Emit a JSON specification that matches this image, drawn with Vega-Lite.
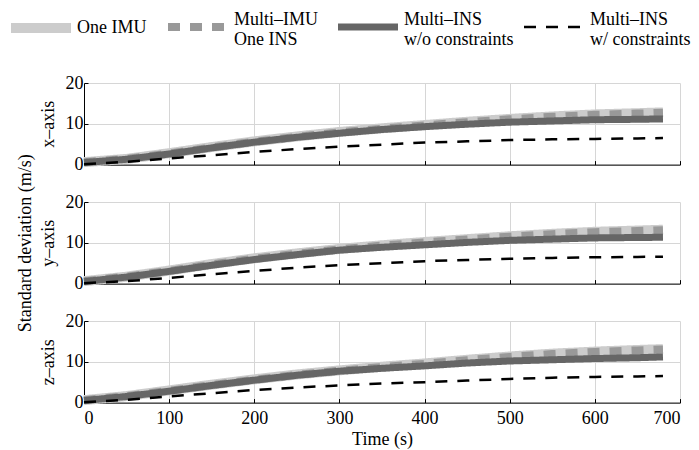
{
  "$schema": "https://vega.github.io/schema/vega-lite/v6.json",
  "padding": {"left": 16, "top": 18, "right": 2, "bottom": 0},
  "background": "white",
  "bounds": "flush",
  "spacing": 37,
  "config": {
    "font": "Liberation Serif",
    "view": {"stroke": null},
    "axis": {
      "labelFont": "Liberation Serif", "labelFontSize": 18, "labelColor": "black",
      "titleFont": "Liberation Serif", "titleFontSize": 18, "titleFontWeight": "normal", "titleColor": "black",
      "domainColor": "black", "domainWidth": 1, "tickColor": "black", "tickSize": -4, "tickWidth": 1,
      "gridColor": "#d6d6d6", "gridWidth": 1, "gridOpacity": 1
    },
    "legend": {
      "orient": "none", "legendX": -52, "legendY": -65, "direction": "horizontal", "title": null,
      "symbolType": "stroke", "symbolSize": 3600, "labelFont": "Liberation Serif", "labelFontSize": 18,
      "labelColor": "black", "labelOffset": 27, "columnPadding": 5, "labelLimit": 400, "labelLineHeight": 20
    }
  },
  "data": {"values": [
    {"p": "x", "t": 0, "imu": 0.6, "mimu": 0.6, "wo": 0.5, "w": 0.1},
    {"p": "x", "t": 50, "imu": 1.4, "mimu": 1.4, "wo": 1.3, "w": 0.7},
    {"p": "x", "t": 100, "imu": 2.8, "mimu": 2.7, "wo": 2.6, "w": 1.5},
    {"p": "x", "t": 150, "imu": 4.3, "mimu": 4.2, "wo": 4.1, "w": 2.3},
    {"p": "x", "t": 200, "imu": 5.7, "mimu": 5.6, "wo": 5.5, "w": 3.1},
    {"p": "x", "t": 250, "imu": 6.9, "mimu": 6.8, "wo": 6.7, "w": 3.8},
    {"p": "x", "t": 300, "imu": 8.0, "mimu": 7.9, "wo": 7.7, "w": 4.4},
    {"p": "x", "t": 350, "imu": 8.9, "mimu": 8.8, "wo": 8.6, "w": 4.9},
    {"p": "x", "t": 400, "imu": 9.7, "mimu": 9.6, "wo": 9.3, "w": 5.4},
    {"p": "x", "t": 450, "imu": 10.5, "mimu": 10.4, "wo": 9.9, "w": 5.7},
    {"p": "x", "t": 500, "imu": 11.2, "mimu": 11.1, "wo": 10.4, "w": 6.0},
    {"p": "x", "t": 550, "imu": 11.8, "mimu": 11.7, "wo": 10.7, "w": 6.2},
    {"p": "x", "t": 600, "imu": 12.3, "mimu": 12.2, "wo": 11.0, "w": 6.3},
    {"p": "x", "t": 650, "imu": 12.6, "mimu": 12.5, "wo": 11.1, "w": 6.4},
    {"p": "x", "t": 680, "imu": 12.8, "mimu": 12.7, "wo": 11.2, "w": 6.5},
    {"p": "y", "t": 0, "imu": 0.6, "mimu": 0.6, "wo": 0.5, "w": 0.1},
    {"p": "y", "t": 50, "imu": 1.7, "mimu": 1.7, "wo": 1.6, "w": 0.6},
    {"p": "y", "t": 100, "imu": 3.2, "mimu": 3.1, "wo": 3.0, "w": 1.4},
    {"p": "y", "t": 150, "imu": 4.8, "mimu": 4.7, "wo": 4.5, "w": 2.3},
    {"p": "y", "t": 200, "imu": 6.2, "mimu": 6.1, "wo": 5.9, "w": 3.1},
    {"p": "y", "t": 250, "imu": 7.4, "mimu": 7.3, "wo": 7.1, "w": 3.9},
    {"p": "y", "t": 300, "imu": 8.5, "mimu": 8.4, "wo": 8.2, "w": 4.5},
    {"p": "y", "t": 350, "imu": 9.4, "mimu": 9.3, "wo": 8.9, "w": 5.0},
    {"p": "y", "t": 400, "imu": 10.2, "mimu": 10.1, "wo": 9.5, "w": 5.5},
    {"p": "y", "t": 450, "imu": 10.9, "mimu": 10.8, "wo": 10.1, "w": 5.8},
    {"p": "y", "t": 500, "imu": 11.6, "mimu": 11.5, "wo": 10.6, "w": 6.1},
    {"p": "y", "t": 550, "imu": 12.2, "mimu": 12.1, "wo": 10.9, "w": 6.3},
    {"p": "y", "t": 600, "imu": 12.7, "mimu": 12.6, "wo": 11.2, "w": 6.45},
    {"p": "y", "t": 650, "imu": 13.0, "mimu": 12.9, "wo": 11.3, "w": 6.55},
    {"p": "y", "t": 680, "imu": 13.2, "mimu": 13.1, "wo": 11.35, "w": 6.6},
    {"p": "z", "t": 0, "imu": 0.6, "mimu": 0.6, "wo": 0.5, "w": 0.1},
    {"p": "z", "t": 50, "imu": 1.6, "mimu": 1.6, "wo": 1.5, "w": 0.7},
    {"p": "z", "t": 100, "imu": 3.0, "mimu": 2.9, "wo": 2.8, "w": 1.5},
    {"p": "z", "t": 150, "imu": 4.4, "mimu": 4.3, "wo": 4.2, "w": 2.3},
    {"p": "z", "t": 200, "imu": 5.7, "mimu": 5.6, "wo": 5.5, "w": 3.1},
    {"p": "z", "t": 250, "imu": 6.9, "mimu": 6.8, "wo": 6.7, "w": 3.7},
    {"p": "z", "t": 300, "imu": 7.9, "mimu": 7.8, "wo": 7.7, "w": 4.2},
    {"p": "z", "t": 350, "imu": 8.8, "mimu": 8.7, "wo": 8.4, "w": 4.7},
    {"p": "z", "t": 400, "imu": 9.6, "mimu": 9.5, "wo": 9.0, "w": 5.0},
    {"p": "z", "t": 450, "imu": 10.5, "mimu": 10.4, "wo": 9.7, "w": 5.4},
    {"p": "z", "t": 500, "imu": 11.3, "mimu": 11.2, "wo": 10.2, "w": 5.8},
    {"p": "z", "t": 550, "imu": 12.0, "mimu": 11.9, "wo": 10.5, "w": 6.1},
    {"p": "z", "t": 600, "imu": 12.5, "mimu": 12.4, "wo": 10.8, "w": 6.3},
    {"p": "z", "t": 650, "imu": 12.9, "mimu": 12.8, "wo": 11.0, "w": 6.4},
    {"p": "z", "t": 680, "imu": 13.1, "mimu": 13.0, "wo": 11.2, "w": 6.5}
  ]},
  "transform": [{"fold": ["imu", "mimu", "wo", "w"], "as": ["s", "v"]}],
  "vconcat": [
    {
      "width": 596, "height": 81.6,
      "transform": [{"filter": "datum.p === 'x'"}],
      "encoding": {
        "x": {"field": "t", "type": "quantitative", "scale": {"domain": [0, 700], "nice": false},
              "axis": {"values": [0, 100, 200, 300, 400, 500, 600, 700], "grid": true, "labels": false, "title": null}},
        "y": {"field": "v", "type": "quantitative", "scale": {"domain": [0, 20], "nice": false},
              "axis": {"values": [0, 10, 20], "grid": true, "title": "x–axis", "labelPadding": 5, "titlePadding": 8}},
        "color": {"field": "s", "type": "nominal",
                  "scale": {"domain": ["imu", "mimu", "wo", "w"], "range": ["#cccccc", "#999999", "#666666", "#000000"]},
                  "legend": {
                    "labelExpr": "datum.value === 'imu' ? 'One IMU' : datum.value === 'mimu' ? ['Multi–IMU', 'One INS'] : datum.value === 'wo' ? ['Multi–INS', 'w/o constraints'] : ['Multi–INS', 'w/ constraints']",
                    "symbolStrokeWidth": 8,
                    "encode": {
                      "symbols": {"update": {"strokeWidth": {"signal": "datum.value === 'imu' ? 10 : datum.value === 'mimu' ? 8 : datum.value === 'wo' ? 7 : 2.5"}}},
                      "labels": {"update": {"dy": {"signal": "datum.value === 'imu' ? 0 : -7"}}}
                    }
                  }},
        "strokeDash": {"field": "s", "type": "nominal",
                       "scale": {"domain": ["imu", "mimu", "wo", "w"], "range": [[1, 0], [12, 10], [1, 0], [12, 10]]}}
      },
      "layer": [
        {"transform": [{"filter": "datum.s === 'imu'"}], "mark": {"type": "line", "strokeWidth": 10, "strokeCap": "butt"}},
        {"transform": [{"filter": "datum.s === 'mimu'"}], "mark": {"type": "line", "strokeWidth": 8, "strokeCap": "butt"}},
        {"transform": [{"filter": "datum.s === 'wo'"}], "mark": {"type": "line", "strokeWidth": 7, "strokeCap": "butt"}},
        {"transform": [{"filter": "datum.s === 'w'"}], "mark": {"type": "line", "strokeWidth": 2.5, "strokeCap": "butt"}}
      ]
    },
    {
      "width": 596, "height": 81.6,
      "transform": [{"filter": "datum.p === 'y'"}],
      "encoding": {
        "x": {"field": "t", "type": "quantitative", "scale": {"domain": [0, 700], "nice": false},
              "axis": {"values": [0, 100, 200, 300, 400, 500, 600, 700], "grid": true, "labels": false, "title": null}},
        "y": {"field": "v", "type": "quantitative", "scale": {"domain": [0, 20], "nice": false},
              "axis": {"values": [0, 10, 20], "grid": true, "title": ["Standard deviation (m/s)", "y–axis"], "titleLineHeight": 23, "labelPadding": 5, "titlePadding": 8}},
        "color": {"field": "s", "type": "nominal"},
        "strokeDash": {"field": "s", "type": "nominal"}
      },
      "layer": [
        {"transform": [{"filter": "datum.s === 'imu'"}], "mark": {"type": "line", "strokeWidth": 10, "strokeCap": "butt"}},
        {"transform": [{"filter": "datum.s === 'mimu'"}], "mark": {"type": "line", "strokeWidth": 8, "strokeCap": "butt"}},
        {"transform": [{"filter": "datum.s === 'wo'"}], "mark": {"type": "line", "strokeWidth": 7, "strokeCap": "butt"}},
        {"transform": [{"filter": "datum.s === 'w'"}], "mark": {"type": "line", "strokeWidth": 2.5, "strokeCap": "butt"}}
      ]
    },
    {
      "width": 596, "height": 81.6,
      "transform": [{"filter": "datum.p === 'z'"}],
      "encoding": {
        "x": {"field": "t", "type": "quantitative", "scale": {"domain": [0, 700], "nice": false},
              "axis": {"values": [0, 100, 200, 300, 400, 500, 600, 700], "grid": true, "title": "Time (s)", "labelPadding": 11, "titlePadding": 3}},
        "y": {"field": "v", "type": "quantitative", "scale": {"domain": [0, 20], "nice": false},
              "axis": {"values": [0, 10, 20], "grid": true, "title": "z–axis", "labelPadding": 5, "titlePadding": 8}},
        "color": {"field": "s", "type": "nominal"},
        "strokeDash": {"field": "s", "type": "nominal"}
      },
      "layer": [
        {"transform": [{"filter": "datum.s === 'imu'"}], "mark": {"type": "line", "strokeWidth": 10, "strokeCap": "butt"}},
        {"transform": [{"filter": "datum.s === 'mimu'"}], "mark": {"type": "line", "strokeWidth": 8, "strokeCap": "butt"}},
        {"transform": [{"filter": "datum.s === 'wo'"}], "mark": {"type": "line", "strokeWidth": 7, "strokeCap": "butt"}},
        {"transform": [{"filter": "datum.s === 'w'"}], "mark": {"type": "line", "strokeWidth": 2.5, "strokeCap": "butt"}}
      ]
    }
  ]
}
